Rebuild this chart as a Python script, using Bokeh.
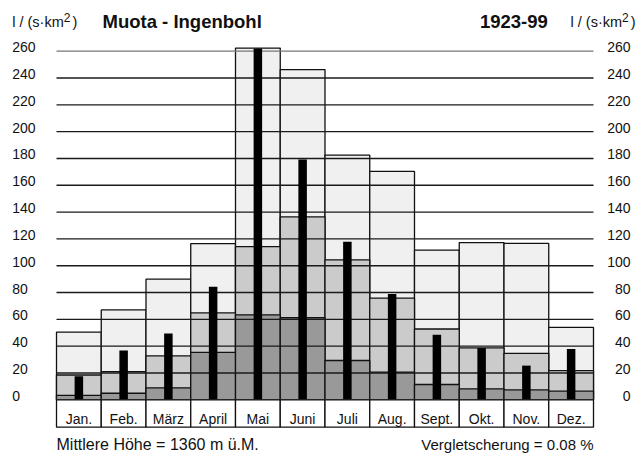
from bokeh.plotting import figure
from bokeh.models import Range1d, ColumnDataSource
from bokeh.core.properties import value
from bokeh.embed import file_html
from bokeh.resources import INLINE

# ---- data ----
months = ["Jan.", "Feb.", "März", "April", "Mai", "Juni", "Juli", "Aug.", "Sept.", "Okt.", "Nov.", "Dez."]
q_max = [50.5, 67.0, 90.0, 116.5, 262.3, 246.3, 182.5, 170.3, 111.6, 117.3, 116.6, 54.0]
q_mid = [18.5, 21.0, 32.7, 64.8, 114.2, 136.4, 104.4, 75.8, 52.8, 38.7, 34.7, 21.8]
q_min = [3.3, 4.9, 8.9, 35.3, 63.4, 61.2, 29.3, 20.6, 11.4, 8.2, 7.4, 6.4]
q_bar = [17.5, 36.7, 49.5, 84.3, 262.0, 179.3, 117.8, 78.9, 48.5, 38.6, 25.5, 37.9]
y_ticks = [0, 20, 40, 60, 80, 100, 120, 140, 160, 180, 200, 220, 240, 260]
station = "Muota - Ingenbohl"
period = "1923-99"
unit_main = "l / (s·km"
unit_sup = "2"
unit_end = ")"
note_left = "Mittlere Höhe = 1360 m ü.M."
note_right = "Vergletscherung = 0.08 %"

# ---- geometry ----
W, H = 639, 456
PX_X = 44.75          # px per month
PX_Y = 1.34077        # px per l/(s km2)
X0_PX = 56            # canvas px of month 0
Y0_PX = 399.3         # canvas px of value 0
TXT_UP = 4.0          # baseline correction in px
xs = -X0_PX / PX_X
xe = (W - X0_PX) / PX_X
ye = Y0_PX / PX_Y
ys = -(H - Y0_PX) / PX_Y

def dx(px):
    return xs + px / PX_X

def dy(py):
    return ye - py / PX_Y

def ty(py):
    return dy(py - TXT_UP)

p = figure(width=W, height=H, output_backend="svg", toolbar_location=None,
           x_range=Range1d(xs, xe), y_range=Range1d(ys, ye),
           min_border=0, min_border_left=0, min_border_right=0,
           min_border_top=0, min_border_bottom=0)
p.xaxis.visible = False
p.yaxis.visible = False
p.grid.visible = False
p.outline_line_color = None
p.background_fill_color = "white"
p.border_fill_color = "white"

n = len(months)
lefts = list(range(n))
rights = [i + 1 for i in range(n)]
centers = [i + 0.5 for i in range(n)]
zeros = [0] * n

src = ColumnDataSource(dict(left=lefts, right=rights, center=centers, zero=zeros,
                            qmax=q_max, qmid=q_mid, qmin=q_min, qbar=q_bar,
                            month=months, lab_bottom=[dy(426.7)] * n,
                            lab_y=[ty(422)] * n))

LW = 1.3
p.quad(left="left", right="right", bottom="zero", top="qmax", source=src,
       fill_color="#f0f0f0", line_color="#111111", line_width=LW)
p.quad(left="left", right="right", bottom="zero", top="qmid", source=src,
       fill_color="#cbcbcb", line_color="#111111", line_width=LW)
p.quad(left="left", right="right", bottom="zero", top="qmin", source=src,
       fill_color="#999999", line_color="#111111", line_width=LW)

# horizontal grid lines across plot area
gl = [t for t in y_ticks if 0 < t < 260]
p.segment(x0=[0] * len(gl), x1=[n] * len(gl), y0=gl, y1=gl,
          line_color="#1a1a1a", line_width=1.4)
p.segment(x0=[0], x1=[n], y0=[y_ticks[-1]], y1=[y_ticks[-1]],
          line_color="#777777", line_width=1.2)

# black bars
p.vbar(x="center", width=0.19, bottom="zero", top="qbar", source=src,
       fill_color="black", line_color=None)

# month label boxes
p.quad(left="left", right="right", bottom="lab_bottom", top="zero", source=src,
       fill_color="white", line_color="#111111", line_width=LW)
p.text(x="center", y="lab_y", text="month", source=src,
       text_font=value("Liberation Sans"), text_font_size="14px",
       text_align="center", text_baseline="alphabetic", text_color="#111111")

# y tick labels left and right
tl = [str(t) for t in y_ticks]
tly = [t + TXT_UP / PX_Y for t in y_ticks]
p.text(x=[dx(11.7)] * len(y_ticks), y=tly, text=tl,
       text_font=value("Liberation Sans"), text_font_size="14px",
       text_align="left", text_baseline="alphabetic", text_color="#111111")
p.text(x=[dx(630)] * len(y_ticks), y=tly, text=tl,
       text_font=value("Liberation Sans"), text_font_size="14px",
       text_align="right", text_baseline="alphabetic", text_color="#111111")

# header
def unit(x_px):
    p.text(x=[dx(x_px)], y=[ty(25)], text=[unit_main],
           text_font=value("Liberation Sans"), text_font_size="14.5px",
           text_align="left", text_baseline="alphabetic", text_color="#111111")
    p.text(x=[dx(x_px + 51.6)], y=[ty(20.7)], text=[unit_sup],
           text_font=value("Liberation Sans"), text_font_size="12px",
           text_align="left", text_baseline="alphabetic", text_color="#111111")
    p.text(x=[dx(x_px + 60.3)], y=[ty(25)], text=[unit_end],
           text_font=value("Liberation Sans"), text_font_size="14.5px",
           text_align="left", text_baseline="alphabetic", text_color="#111111")

unit(11.7)
unit(570)
p.text(x=[dx(102)], y=[ty(25)], text=[station],
       text_font=value("Liberation Sans"), text_font_size="18.5px", text_font_style="bold",
       text_align="left", text_baseline="alphabetic", text_color="#111111")
p.text(x=[dx(547.3)], y=[ty(25)], text=[period],
       text_font=value("Liberation Sans"), text_font_size="18.5px", text_font_style="bold",
       text_align="right", text_baseline="alphabetic", text_color="#111111")

# footer
p.text(x=[0], y=[ty(448)], text=[note_left],
       text_font=value("Liberation Sans"), text_font_size="16px",
       text_align="left", text_baseline="alphabetic", text_color="#111111")
p.text(x=[n], y=[ty(448)], text=[note_right],
       text_font=value("Liberation Sans"), text_font_size="15px",
       text_align="right", text_baseline="alphabetic", text_color="#111111")

open("out.html", "w").write(file_html(p, INLINE))
